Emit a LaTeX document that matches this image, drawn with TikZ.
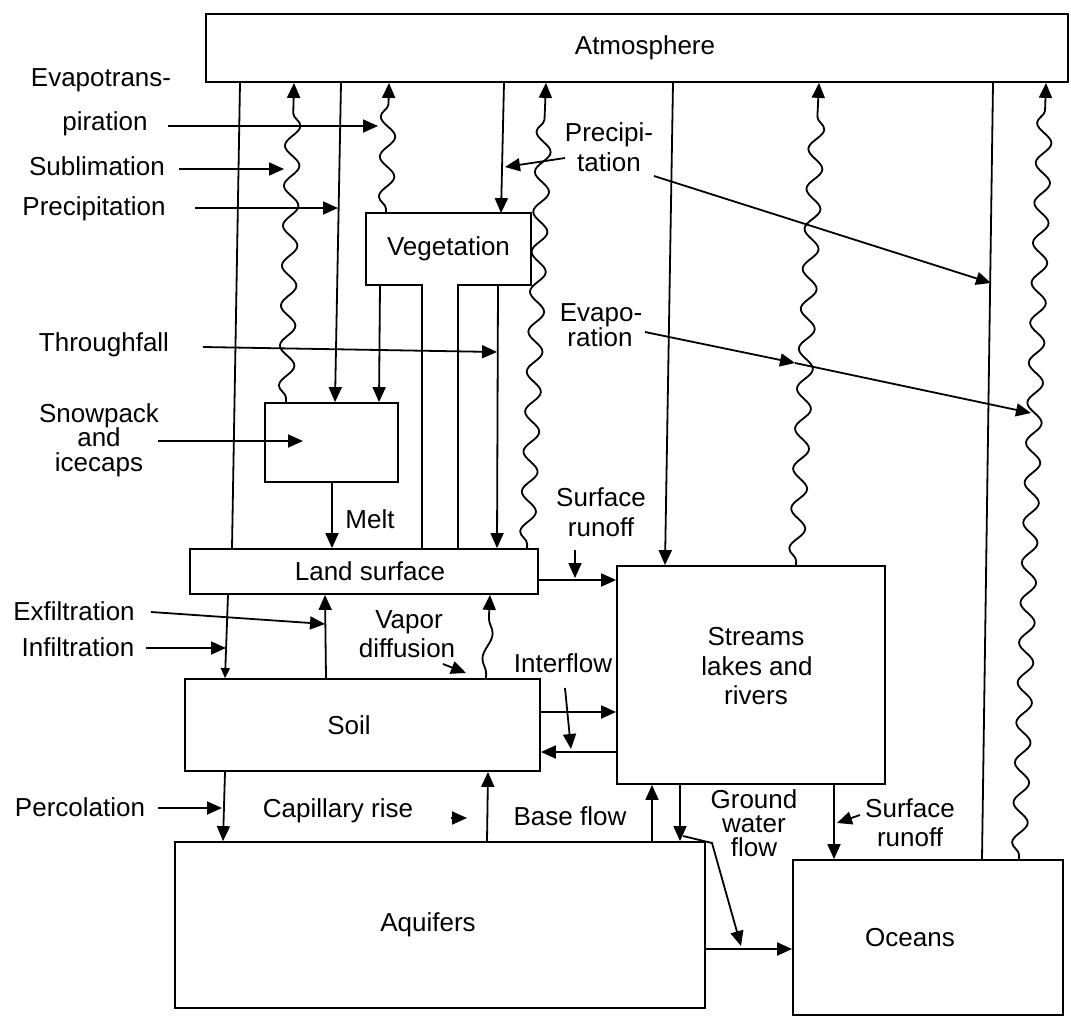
\documentclass[tikz,border=0pt]{standalone}
\usepackage{fontspec}
\setmainfont{Liberation Sans}
\usetikzlibrary{arrows.meta,decorations.pathmorphing}
\newcommand\lblfont{\fontsize{26}{30}\selectfont}
\newcommand\tightfont{\fontsize{26}{24.5}\selectfont}
\begin{document}
\begin{tikzpicture}[x=1pt,y=-1pt,
  >={Triangle[length=15pt,width=13pt]},
  box/.style={draw, line width=1.8pt, inner sep=0pt, font=\lblfont},
  flow/.style={line width=1.8pt, ->},
  smallflow/.style={line width=1.8pt, -{Triangle[length=10pt,width=9pt]}},
  plain/.style={line width=1.8pt},
  wavy/.style={line width=1.8pt, ->, decorate,
    decoration={snake, amplitude=7.5pt, segment length=40pt, pre length=4pt, post length=17pt}},
  shortwavy/.style={line width=1.8pt, ->, decorate,
    decoration={snake, amplitude=4.5pt, segment length=50pt, pre length=4pt, post length=17pt}},
  lbl/.style={font=\lblfont, inner sep=0pt, anchor=base},
  stack/.style={font=\tightfont, inner sep=0pt, align=center, anchor=center}]
\fill[white] (0,0) rectangle (1071,1023);
\useasboundingbox (0,0) rectangle (1071,1023);

% ---------- boxes ----------
\node[box, minimum width=862pt, minimum height=68pt] (atm) at (637,48) {\hspace*{16pt}Atmosphere};
\node[box, draw=none, minimum width=163pt, minimum height=70pt] (veg) at (448.5,249) {Vegetation};
\node[box, minimum width=133pt, minimum height=79pt] (snow) at (331.5,442.5) {};
\node[box, minimum width=348pt, minimum height=45pt] (land) at (364,571.5) {\hspace*{12pt}Land surface};
\node[box, minimum width=355pt, minimum height=92pt] (soil) at (362.5,725) {Soil\hspace*{27pt}};
\node[box, minimum width=268pt, minimum height=218pt] (streams) at (751,675) {};
\node[box, minimum width=530pt, minimum height=166pt] (aq) at (440,925) {Aquifers\hspace*{24pt}};
\node[box, minimum width=270pt, minimum height=155pt] (oceans) at (928,937.5) {Oceans\hspace*{36pt}};

% vegetation outline with its stem down to the land surface
\draw[plain] (land.north -| 422,0) -- (veg.south -| 422,0) -- (veg.south west) -- (veg.north west)
  -- (veg.north east) -- (veg.south east) -- (veg.south -| 458,0) -- (land.north -| 458,0);

% ---------- labels ----------
\node[lbl] (tEvA) at (101,86) {Evapotrans-};
\node[lbl] (tEvB) at (105,130) {piration};
\node[lbl] (tSub) at (97,175) {Sublimation};
\node[lbl] (tPre) at (94,215) {Precipitation};
\node[lbl] (tThr) at (104,351) {Throughfall};
\node[stack] (tSnow) at (99,440) {Snowpack\\and\\icecaps};
\node[lbl] (tMelt) at (370,528) {Melt};
\node[lbl] (tExf) at (74,620) {Exfiltration};
\node[lbl] (tInf) at (78,656) {Infiltration};
\node[lbl] (tVapA) at (409,628) {Vapor};
\node[lbl] (tVapB) at (407,657) {diffusion};
\node[lbl] (tInt) at (563,672) {Interflow};
\node[lbl] (tSrA) at (601,506) {Surface};
\node[lbl] (tSrB) at (601,536) {runoff};
\node[lbl] (tPrA) at (609,141) {Precipi-};
\node[lbl] (tPrB) at (609,171) {tation};
\node[lbl] (tEoA) at (601,321) {Evapo-};
\node[lbl] (tEoB) at (600,346) {ration};
\node[lbl] (tPer) at (80,816) {Percolation};
\node[lbl] (tCap) at (338,817) {Capillary rise};
\node[lbl] (tBase) at (570,825) {Base flow};
\node[stack, font=\fontsize{26}{24}\selectfont] (tGw) at (754,823) {Ground\\water\\flow};
\node[lbl] (tSoA) at (910,817) {Surface};
\node[lbl] (tSoB) at (910,846) {runoff};
\node[lbl] (tStA) at (756,645) {Streams};
\node[lbl] (tStB) at (757,675) {lakes and};
\node[lbl] (tStC) at (756,704) {rivers};

% ---------- vertical exchanges with the atmosphere ----------
\draw[plain] (atm.south -| 240,0) -- (land.north -| 232,0);
\draw[wavy]  (snow.north -| 286,0) -- (atm.south -| 294,0);
\draw[flow]  (atm.south -| 341,0) -- (snow.north -| 335,0);
\draw[wavy]  (veg.north -| 386,0) -- (atm.south -| 389,0);
\draw[flow]  (atm.south -| 504,0) -- (veg.north -| 501,0);
\draw[flow]  (veg.south -| 380,0) -- (snow.north -| 379,0);
\draw[flow]  (veg.south -| 498,0) -- (land.north -| 497,0);
\draw[wavy]  (land.north -| 527,0) -- (atm.south -| 546,0);
\draw[flow]  (atm.south -| 673,0) -- (streams.north -| 665,0);
\draw[wavy]  (streams.north -| 796,0) -- (atm.south -| 819,0);
\draw[plain] (atm.south -| 993,0) -- (oceans.north -| 982,0);
\draw[wavy]  (oceans.north -| 1019,0) -- (atm.south -| 1046,0);

% melt
\draw[flow] (snow.south -| 332,0) -- (land.north -| 332,0);

% ---------- land surface / soil ----------
\draw[smallflow] (land.south -| 228,0) -- (soil.north -| 225,0);
\draw[flow] (soil.north -| 326,0) -- (land.south -| 325,0);
\draw[shortwavy] (soil.north -| 486,0) -- (land.south -| 490,0);
\draw[flow] (land.east |- 0,580) -- (streams.west |- 0,580);

% ---------- soil / streams ----------
\draw[flow] (soil.east |- 0,712) -- (streams.west |- 0,712);
\draw[flow] (streams.west |- 0,752) -- (soil.east |- 0,752);

% ---------- soil / aquifers ----------
\draw[flow] (soil.south -| 225,0) -- (aq.north -| 223,0);
\draw[flow] (aq.north -| 487,0) -- (soil.south -| 488,0);

% ---------- aquifers / streams / oceans ----------
\draw[flow] (aq.north -| 652,0) -- (streams.south -| 652,0);
\draw[flow] (streams.south -| 680,0) -- (aq.north -| 680,0);
\coordinate (gw0) at (683,836);
\coordinate (gw1) at (712,843);
\coordinate (gw2) at (741,946);
\draw[flow] (gw0) -- (gw1) -- (gw2);
\draw[flow] (aq.east |- 0,949) -- (oceans.west |- 0,949);
\draw[flow] (streams.south -| 834,0) -- (oceans.north -| 834,0);

% ---------- label pointers ----------
\coordinate (evapE) at (378,126);
\draw[flow] (tEvB.east |- 0,126) ++(20,0) -- (evapE);
\draw[flow] (179,169) -- (284,169);
\draw[flow] (195,208) -- (338,208);
\draw[flow] (203,347) -- (497,352);
\draw[flow] (158,441) -- (303,441);
\draw[flow] (151,612) -- (325,624);
\draw[flow] (146,648) -- (226,648);
\draw[flow] (158,808) -- (222,808);
\draw[flow] (575,550) -- (575,578);
\draw[flow] (565,688) -- (571,749);
\draw[flow] (565,158) -- (505,167);
\coordinate (p4hit) at (991,283);
\draw[flow] (654,176) -- (p4hit);
\coordinate (w4hit) at (795,363);
\coordinate (w5hit) at (1031,413);
\draw[flow] (645,332) -- (w4hit);
\draw[flow] (w4hit) -- (w5hit);
\draw[flow] (443,664) -- (466,673);
\draw[flow] (451,818) -- (467,818);
\draw[flow] (860,815) -- (837,823);
\end{tikzpicture}
\end{document}
